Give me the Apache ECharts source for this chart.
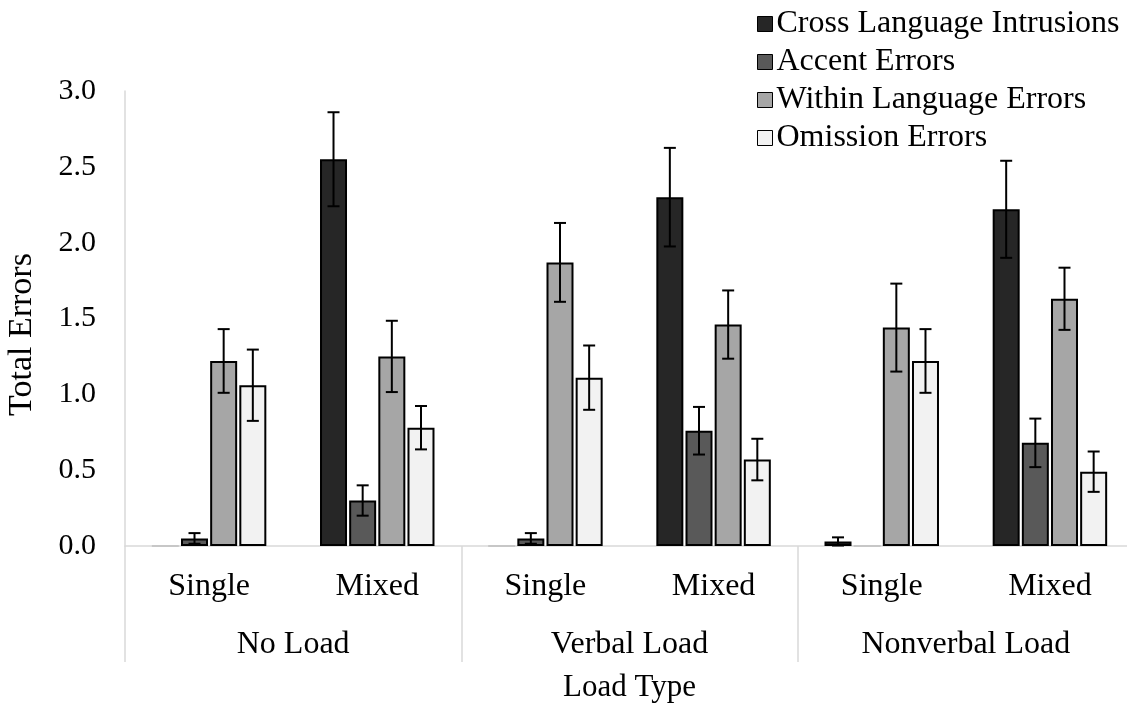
<!DOCTYPE html>
<html>
<head>
<meta charset="utf-8">
<script src="https://cdn.jsdelivr.net/npm/echarts@6/dist/echarts.min.js"></script>
<style>
html,body{margin:0;padding:0;background:#fff;}
#chart{width:1127px;height:704px;}
</style>
</head>
<body>
<div id="chart"></div>
<script>
var conditions = ['Single', 'Mixed', 'Single', 'Mixed', 'Single', 'Mixed'];
var loadTypes = ['No Load', 'Verbal Load', 'Nonverbal Load'];
var seriesNames = ['Cross Language Intrusions', 'Accent Errors', 'Within Language Errors', 'Omission Errors'];
var crossLanguage = [0, 2.55, 0, 2.30, 0.03, 2.22];
var accentErrors = [0.05, 0.30, 0.05, 0.76, 0, 0.68];
var withinLanguage = [1.22, 1.25, 1.87, 1.46, 1.44, 1.63];
var omissionErrors = [1.06, 0.78, 1.11, 0.57, 1.22, 0.49];
var crossLanguageErr = [0, 0.31, 0, 0.325, 0.027, 0.32];
var accentErrorsErr = [0.035, 0.10, 0.035, 0.157, 0, 0.16];
var withinLanguageErr = [0.21, 0.235, 0.26, 0.225, 0.29, 0.205];
var omissionErrorsErr = [0.235, 0.143, 0.212, 0.137, 0.21, 0.133];
var yTicks = ['0.0', '0.5', '1.0', '1.5', '2.0', '2.5', '3.0'];

var values = [crossLanguage, accentErrors, withinLanguage, omissionErrors];
var errs = [crossLanguageErr, accentErrorsErr, withinLanguageErr, omissionErrorsErr];
var colors = ['#262626', '#595959', '#a6a6a6', '#f2f2f2'];
var FONT = "'Liberation Serif', 'Times New Roman', serif";
var FS = 32;
var BAR_W = 27;
var BAR_GAP = 0.08;

var series = [];
seriesNames.forEach(function (name, i) {
  series.push({
    name: name,
    type: 'bar',
    xAxisIndex: 0,
    data: values[i].map(function (v) {
      return v === 0 ? { value: v, itemStyle: { borderColor: '#bfbfbf', borderWidth: 1.5 } } : v;
    }),
    barWidth: BAR_W,
    barGap: (BAR_GAP * 100) + '%',
    itemStyle: { color: colors[i], borderColor: '#000', borderWidth: 2 },
    emphasis: { disabled: true },
    silent: true
  });
});
seriesNames.forEach(function (name, i) {
  var data = values[i].map(function (v, j) { return [j, v - errs[i][j], v + errs[i][j]]; });
  series.push({
    type: 'custom',
    name: name + ' error',
    xAxisIndex: 0,
    silent: true,
    z: 10,
    data: data,
    renderItem: function (params, api) {
      var lo = api.value(1), hi = api.value(2);
      if (hi - lo <= 0) return null;
      var offset = (i - 1.5) * BAR_W * (1 + BAR_GAP);
      var pHi = api.coord([api.value(0), Math.max(hi, 0)]);
      var pLo = api.coord([api.value(0), Math.max(lo, 0)]);
      var x = pHi[0] + offset;
      var cap = 6;
      var st = { stroke: '#000', lineWidth: 2 };
      return {
        type: 'group',
        children: [
          { type: 'line', shape: { x1: x, y1: pHi[1], x2: x, y2: pLo[1] }, style: st },
          { type: 'line', shape: { x1: x - cap, y1: pHi[1], x2: x + cap, y2: pHi[1] }, style: st },
          { type: 'line', shape: { x1: x - cap, y1: pLo[1], x2: x + cap, y2: pLo[1] }, style: st }
        ]
      };
    }
  });
});

var chart = echarts.init(document.getElementById('chart'));
chart.setOption({
  animation: false,
  backgroundColor: '#fff',
  textStyle: { fontFamily: FONT },
  legend: {
    data: seriesNames,
    orient: 'vertical',
    left: 752,
    top: 2,
    itemWidth: 15,
    itemHeight: 15,
    itemGap: 4,
    icon: 'rect',
    itemStyle: { borderColor: '#000', borderWidth: 1 },
    textStyle: { fontFamily: FONT, fontSize: FS, color: '#000', lineHeight: 34, padding: [0, 0, 0, -1] },
    selectedMode: false
  },
  grid: { left: 125, top: 91, width: 1009, bottom: 158, containLabel: false, outerBoundsMode: 'none' },
  xAxis: [
    {
      type: 'category',
      data: conditions,
      axisLine: { show: true, lineStyle: { color: '#d9d9d9', width: 1.5 } },
      axisTick: { show: false },
      axisLabel: { color: '#000', fontSize: FS, fontFamily: FONT, margin: 25 },
      splitLine: { show: false }
    },
    {
      type: 'category',
      data: loadTypes,
      position: 'bottom',
      axisLine: { show: false },
      axisTick: { show: true, length: 116, lineStyle: { color: '#d9d9d9', width: 1.5 } },
      axisLabel: { color: '#000', fontSize: FS, fontFamily: FONT, margin: 83 },
      name: 'Load Type',
      nameLocation: 'middle',
      nameGap: 126,
      nameTextStyle: { color: '#000', fontSize: 31, fontFamily: FONT }
    }
  ],
  yAxis: {
    type: 'value',
    min: 0,
    max: 3,
    interval: 0.5,
    axisLine: { show: true, lineStyle: { color: '#d9d9d9', width: 1.5 } },
    axisTick: { show: false },
    splitLine: { show: false },
    axisLabel: {
      color: '#000', fontSize: 30, fontFamily: FONT, margin: 29,
      formatter: function (v) { return yTicks[Math.round(v / 0.5)]; }
    },
    name: 'Total Errors',
    nameLocation: 'middle',
    nameGap: 86,
    nameTextStyle: { color: '#000', fontSize: 34, fontFamily: FONT, padding: [0, 32, 0, 0] }
  },
  series: series
});
</script>
</body>
</html>
